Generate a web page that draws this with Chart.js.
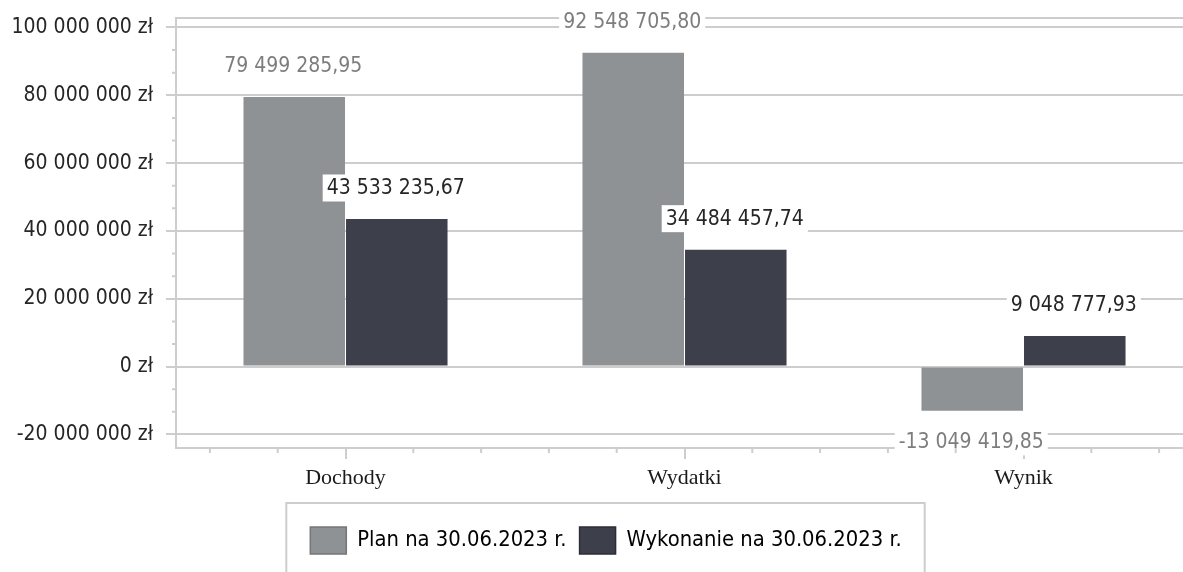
<!DOCTYPE html>
<html>
<head>
<meta charset="utf-8">
<script src="https://cdn.jsdelivr.net/npm/chart.js@4.4.0/dist/chart.umd.min.js"></script>
<style>
  html, body { margin: 0; padding: 0; background: #fff; overflow: hidden; }
  #wrap { position: relative; width: 1193px; height: 580px; }
</style>
</head>
<body>
<div id="wrap"><canvas id="chart"></canvas></div>
<script>
const categories = ['Dochody', 'Wydatki', 'Wynik'];
const seriesNames = ['Plan na 30.06.2023 r.', 'Wykonanie na 30.06.2023 r.'];
const planValues = [79499285.95, 92548705.80, -13049419.85];
const wykonanieValues = [43533235.67, 34484457.74, 9048777.93];
const yTicks = [-20000000, 0, 20000000, 40000000, 60000000, 80000000, 100000000];
const yMin = -24000000;
const yMax = 102800000;

const SANS = "'DejaVu Sans Condensed', 'DejaVu Sans', sans-serif";
const SERIF = "'Liberation Serif', 'DejaVu Serif', serif";
const GRID = '#cdcdcd';
const barColors = ['#8f9294', '#3d3f4b'];
const boxBorders = ['#74777a', '#2c2e37'];
const labelColors = ['#7d7d7d', '#262626'];

function groupThousands(s) {
    return s.replace(/\B(?=(\d{3})+(?!\d))/g, ' ');
}

function formatZl(v) {
    const sign = v < 0 ? '-' : '';
    return sign + groupThousands(String(Math.abs(Math.round(v)))) + ' zł';
}

function formatValue(v) {
    const sign = v < 0 ? '-' : '';
    const parts = Math.abs(v).toFixed(2).split('.');
    return sign + groupThousands(parts[0]) + ',' + parts[1];
}

// value boxes above / below the bars
const barLabels = {
    id: 'barLabels',
    afterDatasetsDraw(chart) {
        const ctx = chart.ctx;
        ctx.save();
        ctx.font = `21px ${SANS}`;
        ctx.textAlign = 'center';
        ctx.textBaseline = 'middle';
        chart.data.datasets.forEach((ds, di) => {
            chart.getDatasetMeta(di).data.forEach((bar, i) => {
                const v = ds.data[i];
                const text = formatValue(v);
                const y = v >= 0 ? bar.y - 31 : bar.y + 31;
                const w = ctx.measureText(text).width + 8;
                ctx.fillStyle = '#fff';
                ctx.fillRect(bar.x - 1 - w / 2, y - 13.5, w, 27);
                ctx.fillStyle = labelColors[di];
                ctx.fillText(text, bar.x - 1, y + 1);
            });
        });
        ctx.restore();
    }
};

// small ticks between the main ones
const minorTicks = {
    id: 'minorTicks',
    afterDraw(chart) {
        const { ctx, chartArea, scales: { x, y } } = chart;
        ctx.save();
        ctx.strokeStyle = GRID;
        ctx.lineWidth = 2;
        ctx.beginPath();
        for (let k = 0; k < yTicks.length - 1; k++) {
            for (let j = 1; j < 3; j++) {
                const py = y.getPixelForValue(yTicks[k] + (yTicks[k + 1] - yTicks[k]) * j / 3);
                ctx.moveTo(chartArea.left - 4, py);
                ctx.lineTo(chartArea.left, py);
            }
        }
        categories.forEach((c, i) => {
            [-0.4, -0.2, 0.2, 0.4].forEach(d => {
                const px = x.getPixelForValue(i + d);
                ctx.moveTo(px, chartArea.bottom);
                ctx.lineTo(px, chartArea.bottom + 5);
            });
        });
        ctx.stroke();
        ctx.restore();
    }
};

// frame round the legend
const legendFrame = {
    id: 'legendFrame',
    afterLayout(chart) {
        // let the y labels use the left margin too
        chart.scales.y.left = 0;
    },
    afterDraw(chart) {
        const boxes = chart.legend.legendHitBoxes;
        if (!boxes || !boxes.length) return;
        const first = boxes[0];
        const last = boxes[boxes.length - 1];
        const left = first.left - 24;
        const right = last.left + last.width + 23;
        const top = first.top - 24;
        const ctx = chart.ctx;
        ctx.save();
        ctx.strokeStyle = GRID;
        ctx.lineWidth = 2;
        ctx.strokeRect(left, top, right - left, chart.height - top + 20);
        ctx.restore();
    }
};

new Chart(document.getElementById('chart'), {
    type: 'bar',
    data: {
        labels: categories,
        datasets: [
            {
                label: seriesNames[0],
                data: planValues,
                backgroundColor: barColors[0],
                borderWidth: 0,
                barPercentage: 0.99,
                categoryPercentage: 0.605
            },
            {
                label: seriesNames[1],
                data: wykonanieValues,
                backgroundColor: barColors[1],
                borderWidth: 0,
                barPercentage: 0.99,
                categoryPercentage: 0.605
            }
        ]
    },
    options: {
        responsive: true,
        maintainAspectRatio: false,
        animation: false,
        layout: { padding: { left: 19, top: 18, right: 0, bottom: 16 } },
        plugins: {
            tooltip: { enabled: false },
            legend: {
                position: 'bottom',
                labels: {
                    boxWidth: 36,
                    boxHeight: 27,
                    padding: 13,
                    color: '#262626',
                    font: { family: SANS, size: 21.8 },
                    generateLabels(chart) {
                        return chart.data.datasets.map((ds, i) => ({
                            text: ds.label,
                            fillStyle: barColors[i],
                            strokeStyle: boxBorders[i],
                            lineWidth: 1.5,
                            datasetIndex: i,
                            hidden: false
                        }));
                    }
                }
            }
        },
        scales: {
            x: {
                grid: {
                    offset: false,
                    drawOnChartArea: false,
                    color: GRID,
                    lineWidth: 2,
                    tickLength: 11
                },
                border: { display: true, color: GRID, width: 2 },
                ticks: {
                    color: '#1a1a1a',
                    font: { family: SERIF, size: 22 },
                    padding: 6
                },
                afterFit(scale) { scale.height = 66; }
            },
            y: {
                min: yMin,
                max: yMax,
                afterBuildTicks(scale) {
                    scale.ticks = [yMin, ...yTicks, yMax].map(v => ({ value: v }));
                },
                afterFit(scale) {
                    scale.width = 157;
                    scale.paddingTop = 0;
                    scale.paddingBottom = 0;
                },
                grid: {
                    color: GRID,
                    lineWidth: 2,
                    tickLength: 10,
                    tickColor: ctx => (yTicks.includes(ctx.tick.value) ? GRID : 'rgba(0,0,0,0)')
                },
                border: { display: true, color: GRID, width: 2 },
                ticks: {
                    color: '#262626',
                    font: { family: SANS, size: 21 },
                    padding: 13,
                    callback: v => (yTicks.includes(v) ? formatZl(v) : '')
                }
            }
        }
    },
    plugins: [barLabels, minorTicks, legendFrame]
});
</script>
</body>
</html>
